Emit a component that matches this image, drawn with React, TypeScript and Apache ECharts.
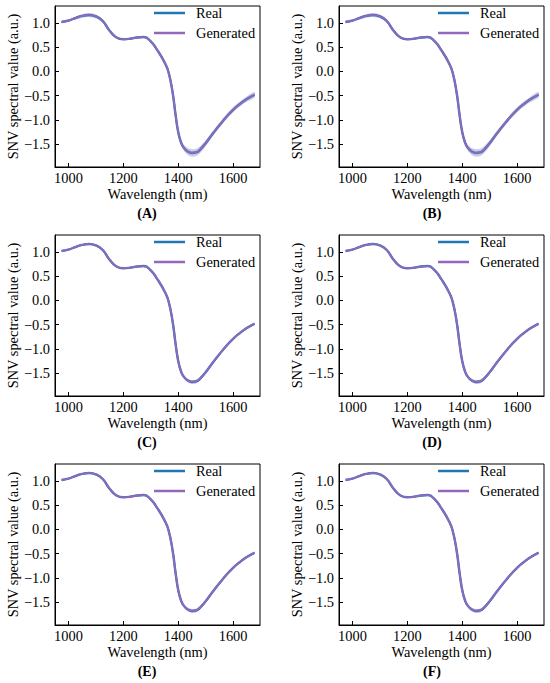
import React, { useEffect, useRef } from "react";
import * as echarts from "echarts";

const panels = ["(A)", "(B)", "(C)", "(D)", "(E)", "(F)"];
const xTicks = [1000, 1200, 1400, 1600];
const yTicks = [-1.5, -1.0, -0.5, 0.0, 0.5, 1.0];

const wavelength = [975, 1000, 1025, 1050, 1075, 1100, 1125, 1150, 1175, 1200, 1225, 1250, 1275, 1300, 1325, 1350, 1365, 1380, 1390, 1400, 1410, 1420, 1435, 1450, 1465, 1480, 1500, 1525, 1550, 1575, 1600, 1625, 1650, 1678];
const realMean = [1.02, 1.05, 1.1, 1.145, 1.165, 1.135, 1.04, 0.84, 0.7, 0.665, 0.675, 0.7, 0.71, 0.62, 0.43, 0.19, -0.02, -0.45, -0.88, -1.25, -1.46, -1.57, -1.65, -1.68, -1.67, -1.61, -1.48, -1.29, -1.11, -0.94, -0.79, -0.67, -0.57, -0.48];
const genMean = [1.02, 1.05, 1.1, 1.145, 1.165, 1.135, 1.04, 0.84, 0.7, 0.665, 0.675, 0.7, 0.71, 0.62, 0.43, 0.19, -0.02, -0.45, -0.88, -1.25, -1.46, -1.57, -1.65, -1.68, -1.67, -1.61, -1.48, -1.29, -1.11, -0.94, -0.79, -0.67, -0.57, -0.48];
// standard deviation envelopes: wide for A,B; narrow for C-F
const stdWide = [0.025, 0.025, 0.03, 0.035, 0.04, 0.04, 0.035, 0.025, 0.02, 0.02, 0.02, 0.02, 0.02, 0.02, 0.025, 0.03, 0.035, 0.035, 0.04, 0.045, 0.05, 0.06, 0.07, 0.075, 0.075, 0.07, 0.06, 0.05, 0.05, 0.05, 0.05, 0.05, 0.055, 0.055];
const stdNarrow = [0.012, 0.012, 0.015, 0.018, 0.018, 0.018, 0.015, 0.012, 0.012, 0.012, 0.012, 0.012, 0.012, 0.012, 0.012, 0.015, 0.018, 0.018, 0.018, 0.022, 0.026, 0.03, 0.035, 0.04, 0.04, 0.035, 0.03, 0.026, 0.024, 0.024, 0.024, 0.024, 0.026, 0.026];
const panelStd = [stdWide, stdWide, stdNarrow, stdNarrow, stdNarrow, stdNarrow];

const FONT = "Liberation Serif";
const colLeft = [55, 339];
const rowTop = [6, 235, 464];
const plotW = 205;
const plotH = 161;
const labelX = [147, 432];

const fmtY = (v: number) => v.toFixed(1).replace("-", "\u2212");
const fmtX = (v: number) => String(v);

export default function App() {
  const ref = useRef<HTMLDivElement>(null);
  useEffect(() => {
    if (!ref.current) return;
    const chart = echarts.init(ref.current, null, { renderer: "svg" });
    const grids: any[] = [];
    const xAxes: any[] = [];
    const yAxes: any[] = [];
    const series: any[] = [];
    const legends: any[] = [];
    const graphics: any[] = [];
    const txt = { color: "#000", fontSize: 14.4, fontFamily: FONT, fontWeight: "normal" };
    panels.forEach((p, i) => {
      const col = i % 2;
      const row = Math.floor(i / 2);
      const std = panelStd[i];
      grids.push({
        left: colLeft[col], top: rowTop[row], width: plotW, height: plotH,
        show: true, borderColor: "#000", borderWidth: 1, backgroundColor: "transparent",
      });
      xAxes.push({
        gridIndex: i, type: "value", min: 951, max: 1698,
        axisLine: { show: true, onZero: false, lineStyle: { color: "#000", width: 1 } },
        axisTick: { show: true, inside: true, length: 4, customValues: xTicks, lineStyle: { color: "#000" } },
        axisLabel: { ...txt, customValues: xTicks, margin: 4, formatter: fmtX },
        splitLine: { show: false },
        name: "Wavelength (nm)", nameLocation: "middle", nameGap: 20,
        nameTextStyle: { ...txt },
      });
      yAxes.push({
        gridIndex: i, type: "value", min: -1.97, max: 1.35,
        axisLine: { show: true, onZero: false, lineStyle: { color: "#000", width: 1 } },
        axisTick: { show: true, inside: true, length: 4, customValues: yTicks, lineStyle: { color: "#000" } },
        axisLabel: { ...txt, customValues: yTicks, margin: 5, formatter: fmtY },
        splitLine: { show: false },
        name: "SNV spectral value (a.u.)", nameLocation: "middle", nameGap: 35,
        nameTextStyle: { ...txt },
      });
      const band = (mean: number[], color: string) => {
        const data = wavelength.map((w, k) => [w, mean[k] - std[k], mean[k] + std[k]]);
        series.push({
          type: "custom", xAxisIndex: i, yAxisIndex: i, silent: true, z: 1,
          encode: { x: 0, y: [1, 2] },
          data,
          renderItem: (params: any, api: any) => {
            if (params.dataIndex !== 0) return null;
            const upper = data.map((d) => api.coord([d[0], d[2]]));
            const lower = data.map((d) => api.coord([d[0], d[1]])).reverse();
            return {
              type: "polygon",
              shape: { points: upper.concat(lower), smooth: 0.3 },
              style: { fill: color, stroke: "none" },
            };
          },
        });
      };
      band(realMean, "rgba(31,119,180,0.2)");
      band(genMean, "rgba(148,103,189,0.2)");
      series.push({
        name: "Real", type: "line", xAxisIndex: i, yAxisIndex: i, smooth: true, symbol: "none", z: 2,
        color: "#1f77b4", lineStyle: { color: "#1f77b4", width: 2.4 },
        data: wavelength.map((w, k) => [w, realMean[k]]),
      });
      series.push({
        name: "Generated", type: "line", xAxisIndex: i, yAxisIndex: i, smooth: true, symbol: "none", z: 3,
        color: "#9467bd", lineStyle: { color: "#9467bd", width: 1.8 },
        data: wavelength.map((w, k) => [w, genMean[k]]),
      });
      legends.push({
        data: ["Real", "Generated"], orient: "vertical", left: colLeft[col] + 99, top: rowTop[row] - 1,
        padding: 0, itemGap: 4, itemWidth: 31, itemHeight: 2.5, icon: "rect",
        textStyle: { ...txt, lineHeight: 16, padding: [0, 0, 0, 6] },
        selectedMode: false,
      });
      graphics.push({
        type: "text", x: labelX[col], y: rowTop[row] + plotH + 46,
        style: { text: p, fill: "#000", font: `bold 14px ${FONT}`, align: "center", verticalAlign: "middle" },
      });
    });
    chart.setOption({
      animation: false,
      backgroundColor: "#fff",
      textStyle: { fontFamily: FONT },
      grid: grids, xAxis: xAxes, yAxis: yAxes, series, legend: legends, graphic: graphics,
    });
    return () => chart.dispose();
  }, []);
  return <div ref={ref} style={{ position: "absolute", left: 0, top: 0, width: 550, height: 683 }} />;
}
